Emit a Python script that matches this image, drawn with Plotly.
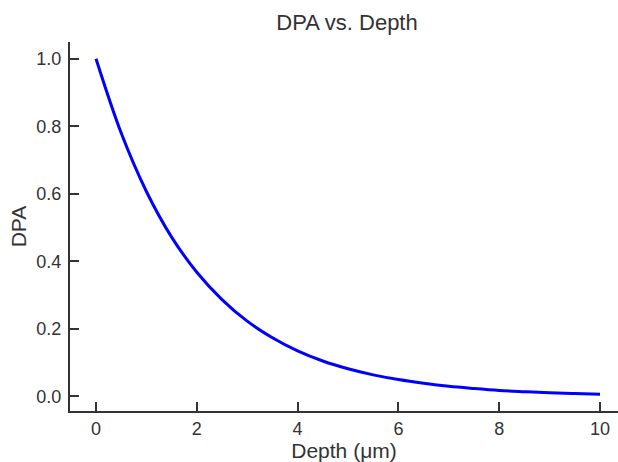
import plotly.graph_objects as go

depth = [0.0, 0.5, 1.0, 1.5, 2.0, 2.5, 3.0, 3.5, 4.0, 4.5, 5.0,
         5.5, 6.0, 6.5, 7.0, 7.5, 8.0, 8.5, 9.0, 9.5, 10.0]
dpa = [1.0, 0.78, 0.607, 0.472, 0.368, 0.287, 0.223, 0.174, 0.135, 0.105, 0.082,
       0.064, 0.050, 0.039, 0.030, 0.0235, 0.018, 0.0143, 0.011, 0.0087, 0.0067]
x_ticks = [0, 2, 4, 6, 8, 10]
y_ticks = [0.0, 0.2, 0.4, 0.6, 0.8, 1.0]

FONT = "Liberation Sans, Arial, sans-serif"
TXT = "#333333"

fig = go.Figure()
fig.add_trace(go.Scatter(x=depth, y=dpa, mode="lines",
                         line=dict(color="#0000ff", width=3, shape="spline"),
                         showlegend=False, cliponaxis=False))

fig.update_layout(
    width=618, height=462,
    margin=dict(l=70, r=0, t=42, b=51, autoexpand=False),
    paper_bgcolor="white", plot_bgcolor="white",
    font=dict(family=FONT, color=TXT, size=18),
    title=dict(text="DPA vs. Depth", x=347 / 618, xanchor="center",
               y=1 - 22 / 462, yanchor="middle", yref="container",
               font=dict(size=22, color=TXT, family=FONT)),
)
fig.update_xaxes(
    range=[-0.516, 10.357], tickvals=x_ticks, ticktext=[str(v) for v in x_ticks],
    showgrid=False, zeroline=False, showline=True, linecolor=TXT, linewidth=2,
    ticks="inside", ticklen=9, tickwidth=2, tickcolor=TXT, automargin=False,
    title=dict(text="Depth (μm)", font=dict(size=21, family=FONT, color=TXT), standoff=4),
    tickfont=dict(size=18),
)
fig.update_yaxes(
    range=[-0.043, 1.0497], tickvals=y_ticks, ticktext=[f"{v:.1f}" for v in y_ticks],
    showgrid=False, zeroline=False, showline=True, linecolor=TXT, linewidth=2,
    ticks="inside", ticklen=9, tickwidth=2, tickcolor=TXT, automargin=False,
    title=dict(text="DPA", font=dict(size=21, family=FONT, color=TXT), standoff=4),
    tickfont=dict(size=18), ticklabelstandoff=3,
)

fig.write_html("out.html", config={"displayModeBar": False},
               post_script="document.body.style.margin='0px';document.body.style.overflow='hidden';")
